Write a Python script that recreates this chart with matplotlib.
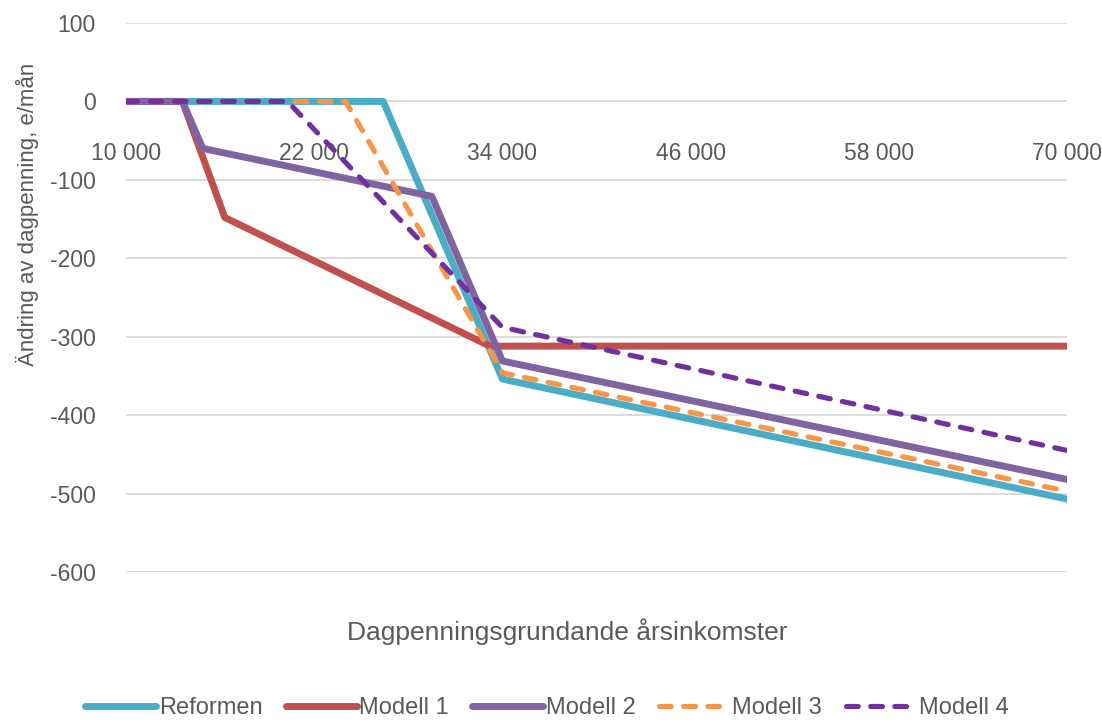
import numpy as np
import matplotlib
matplotlib.use("Agg")
from matplotlib import pyplot as plt

plt.rcParams['font.family'] = ['Liberation Sans', 'DejaVu Sans']
plt.rcParams['axes.unicode_minus'] = False

# data
reform_x = [10000, 26400, 34000, 70000]
reform_y = [0, 0, -354, -507]
m1_x = [10000, 13600, 16300, 33200, 70000]
m1_y = [0, 0, -148, -312, -312]
m2_x = [10000, 13600, 14900, 29500, 34000, 70000]
m2_y = [0, 0, -60, -121, -331, -482]
m3_x = [10000, 24000, 34000, 70000]
m3_y = [0, 0, -346, -497]
m4_x = [10000, 20300, 34000, 70000]
m4_y = [0, 0, -288, -445]

x_ticks = [10000, 22000, 34000, 46000, 58000, 70000]
y_ticks = [100, 0, -100, -200, -300, -400, -500, -600]

grey = '#595959'

fig = plt.figure(figsize=(11.02, 7.2), dpi=100)
ax = fig.add_axes([126/1102, 1-572/720, 941/1102, 549/720])

solid = dict(lw=5, solid_joinstyle='round', solid_capstyle='round')
dashed = dict(lw=3.7, dashes=(2.3, 2.4), dash_capstyle='round', dash_joinstyle='round')
ax.plot(reform_x, reform_y, color='#4BACC6', label='Reformen', **solid)
ax.plot(m1_x, m1_y, color='#C0504D', label='Modell 1', **solid)
ax.plot(m2_x, m2_y, color='#8064A2', label='Modell 2', **solid)
ax.plot(m3_x, m3_y, color='#F79646', label='Modell 3', **dashed)
ax.plot(m4_x, m4_y, color='#7030A0', label='Modell 4', **dashed)

ax.set_xlim(10000, 70000)
ax.set_ylim(-600, 100)
ax.set_yticks(y_ticks)
ax.set_xticks(x_ticks)
ax.set_xticklabels([f'{v:,}'.replace(',', ' ') for v in x_ticks])
ax.grid(axis='y', color='#D9D9D9', lw=1.3)
ax.set_axisbelow(True)
for s in ['top', 'right', 'left']:
    ax.spines[s].set_visible(False)
ax.spines['bottom'].set_position(('data', 0))
ax.spines['bottom'].set_visible(False)
ax.tick_params(axis='x', length=0, pad=29, labelsize=16.5, labelcolor=grey)
ax.tick_params(axis='y', length=0, pad=22, labelsize=16.5, labelcolor=grey)

ax.set_ylabel('Ändring av dagpenning, e/mån', fontsize=16, color=grey)
ax.yaxis.set_label_coords(-0.092, 0.652)
ax.set_xlabel('Dagpenningsgrundande årsinkomster', fontsize=19, color=grey)
ax.xaxis.set_label_coords(0.469, -0.109)
ax.xaxis.label.set_va('center')

leg = fig.legend(loc='center', bbox_to_anchor=(547/1102, 1-708/720), ncol=5, frameon=False,
                 fontsize=17, handlelength=3.0, handletextpad=0.1, columnspacing=1.0,
                 labelcolor=grey)
for line in leg.get_lines():
    line.set_solid_capstyle('round')

plt.savefig('out.png', dpi=100)
